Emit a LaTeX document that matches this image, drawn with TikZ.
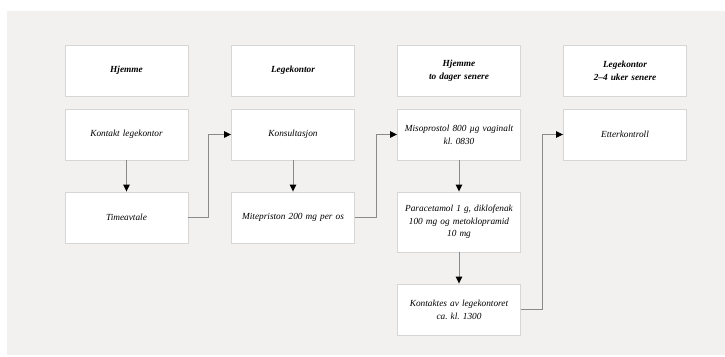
\documentclass[tikz,border=0pt]{standalone}
\usepackage{fontspec}
\setmainfont{Liberation Serif}
\usepackage{xcolor}
\usetikzlibrary{arrows.meta,positioning}

\definecolor{bggray}{HTML}{F2F1EF}
\definecolor{boxline}{HTML}{D6D6D6}
\definecolor{linegray}{HTML}{8A8A8A}

\tikzset{
	box/.style={draw=boxline,fill=white,line width=0.9pt,minimum width=123pt,
		minimum height=51pt,text width=120pt,align=center,inner sep=1pt,
		font=\fontsize{9.3}{12.7}\selectfont\itshape\frenchspacing},
	headbox/.style={box,font=\fontsize{9.3}{12.7}\selectfont\itshape\bfseries},
	flow/.style={draw=linegray,line width=0.9pt,-{Triangle[black,length=7pt,width=6.5pt]}}
}

\begin{document}
\begin{tikzpicture}[x=1pt,y=-1pt]
	\useasboundingbox (0,0) rectangle (725,356);
	\fill[bggray] (7,11) rectangle (725,355);
	% headers
	\node[headbox] (hjem) at (126.5,70.5) {Hjemme};
	\node[headbox] (lege) at (293,70.5) {Legekontor};
	\node[headbox] (hjem2) at (459,70.5) {Hjemme\\to dager senere};
	\node[headbox] (lege2) at (625,70.5) {Legekontor\\2–4 uker senere};
	% steps
	\node[box] (kontakt) at (126.5,134.5) {Kontakt legekontor};
	\node[box] (time) at (126.5,217.5) {Timeavtale};
	\node[box] (kons) at (293,134.5) {Konsultasjon};
	\node[box] (mite) at (293,217.5) {Mitepriston 200 mg per os};
	\node[box] (miso) at (459,134.5) {Misoprostol 800 µg vaginalt\\kl. 0830};
	\node[box,minimum height=60pt] (para) at (459,222) {Paracetamol 1 g, diklofenak\\100 mg og metoklopramid\\10 mg};
	\node[box] (kontaktes) at (459,309.5) {Kontaktes av legekontoret\\ca. kl. 1300};
	\node[box] (etter) at (625,134.5) {Etterkontroll};
	% arrows
	\draw[flow] (kontakt) -- (time);
	\draw[flow] (kons) -- (mite);
	\draw[flow] (miso) -- (para);
	\draw[flow] (para) -- (kontaktes);
	\draw[flow] (time.east) -- ++(20,0) |- (kons.west);
	\draw[flow] (mite.east) -- ++(21,0) |- (miso.west);
	\draw[flow] (kontaktes.east) -- ++(21,0) |- (etter.west);
\end{tikzpicture}
\end{document}
